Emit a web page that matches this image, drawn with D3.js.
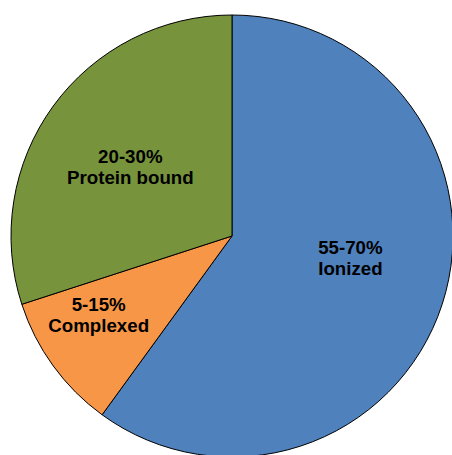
<!DOCTYPE html>
<html>
<head>
<meta charset="utf-8">
<script src="https://cdn.jsdelivr.net/npm/d3@7"></script>
<style>
  html, body { margin: 0; padding: 0; background: #fff; overflow: hidden; }
  svg { display: block; }
</style>
</head>
<body>
<svg id="chart" width="452" height="455"></svg>
<script>
// Data
const categories = ["Ionized", "Complexed", "Protein bound"];
const rangeLabels = ["55-70%", "5-15%", "20-30%"];
const values = [60, 10, 30];
const colors = ["#4F81BD", "#F79646", "#77933C"];

// Layout
const W = 452, H = 455;
const cx = 232, cy = 236, R = 221;
// label placement: radius fraction and angle nudge (degrees)
const labelRadius = [0.545, 0.70, 0.555];
const labelNudge = [-7.5, 5.5, -2];

const svg = d3.select("#chart");
const g = svg.append("g").attr("transform", `translate(${cx},${cy})`);

const pie = d3.pie().sort(null).value(d => d)(values);
const arc = d3.arc().innerRadius(0).outerRadius(R);

g.selectAll("path.slice")
  .data(pie)
  .enter().append("path")
  .attr("class", "slice")
  .attr("d", arc)
  .attr("fill", (d, i) => colors[i])
  .attr("stroke", "#000")
  .attr("stroke-width", 1);

pie.forEach((d, i) => {
  const mid = (d.startAngle + d.endAngle) / 2 + labelNudge[i] * Math.PI / 180;
  const r = R * labelRadius[i];
  const x = Math.sin(mid) * r;
  const y = -Math.cos(mid) * r;
  const t = g.append("text")
    .attr("text-anchor", "middle")
    .attr("font-family", "Liberation Sans, Arial, sans-serif")
    .attr("font-weight", "bold")
    .attr("font-size", 18.7)
    .attr("fill", "#000");
  t.append("tspan").attr("x", x).attr("y", y - 4).text(rangeLabels[i]);
  t.append("tspan").attr("x", x).attr("y", y + 17).text(categories[i]);
});
</script>
</body>
</html>
